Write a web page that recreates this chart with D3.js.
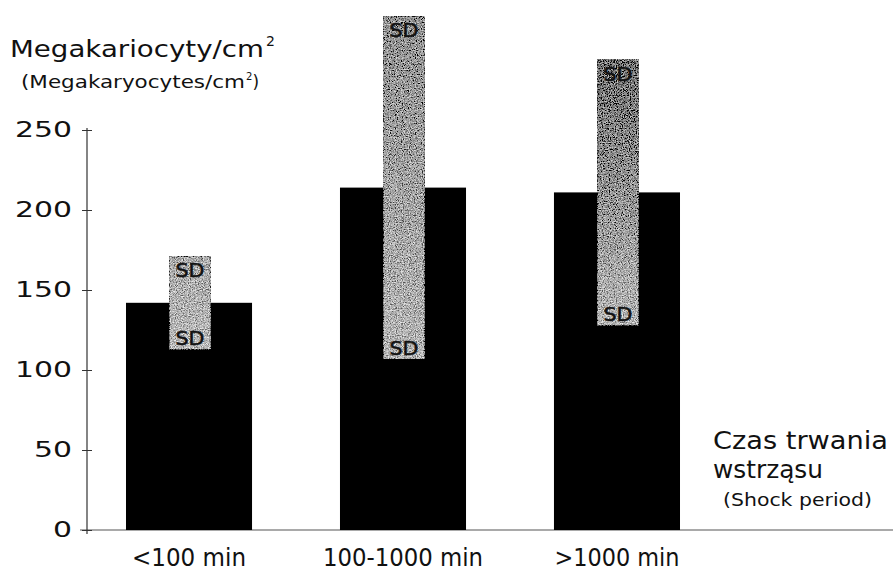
<!DOCTYPE html>
<html>
<head>
<meta charset="utf-8">
<script src="https://cdn.jsdelivr.net/npm/d3@7"></script>
<style>
  body { margin: 0; background: #fff; }
  text { font-family: "DejaVu Sans", sans-serif; fill: #111; }
</style>
</head>
<body>
<svg width="893" height="573"></svg>
<script>
// data
var categories = ["<100 min", "100-1000 min", ">1000 min"];
var means = [142, 214, 211];
var sds = [29, 107, 83];
var yTicks = [0, 50, 100, 150, 200, 250];

var svg = d3.select("svg"),
    width = +svg.attr("width"),
    height = +svg.attr("height");

// the scan is stretched sideways, so texts get a fixed width
function fit(sel, w) {
  sel.attr("textLength", w).attr("lengthAdjust", "spacingAndGlyphs");
  return sel;
}

var x = d3.scaleBand()
    .domain(categories)
    .range([83.2, 722.8])
    .paddingInner(0.411)
    .paddingOuter(0.2);

var y = d3.scaleLinear()
    .domain([0, 250])
    .range([530, 130]);

var defs = svg.append("defs");

// grainy texture for the SD boxes
var f = defs.append("filter").attr("id", "grain")
    .attr("x", 0).attr("y", 0).attr("width", 1).attr("height", 1);
f.append("feTurbulence")
    .attr("type", "fractalNoise")
    .attr("baseFrequency", 0.85)
    .attr("numOctaves", 2)
    .attr("seed", 7)
    .attr("result", "noise");
f.append("feColorMatrix")
    .attr("in", "noise")
    .attr("type", "matrix")
    .attr("values", "0.33 0.33 0.33 0 0  0.33 0.33 0.33 0 0  0.33 0.33 0.33 0 0  0 0 0 0 1")
    .attr("result", "gray");
var ct = f.append("feComponentTransfer").attr("in", "gray").attr("result", "g2");
["feFuncR", "feFuncG", "feFuncB"].forEach(function(n) {
  ct.append(n).attr("type", "linear").attr("slope", 4).attr("intercept", -1.5);
});
f.append("feComposite")
    .attr("in", "SourceGraphic").attr("in2", "g2")
    .attr("operator", "arithmetic")
    .attr("k1", 0).attr("k2", 1).attr("k3", 0.7).attr("k4", -0.35);

// vertical shading of each box
var shades = [["#adadad", "#bdbdbd"], ["#959595", "#b8b8b8"], ["#747474", "#bababa"]];
shades.forEach(function(s, i) {
  var g = defs.append("linearGradient").attr("id", "shade" + i)
      .attr("x1", 0).attr("x2", 0).attr("y1", 0).attr("y2", 1);
  g.append("stop").attr("offset", "0%").attr("stop-color", s[0]);
  g.append("stop").attr("offset", "100%").attr("stop-color", s[1]);
});

// x axis baseline
svg.append("line")
    .attr("x1", 80).attr("x2", width)
    .attr("y1", y(0)).attr("y2", y(0))
    .attr("stroke", "#555").attr("stroke-width", 1.1);

// y axis
var yAxis = svg.append("g")
    .attr("transform", "translate(87,0)")
    .call(d3.axisLeft(y).tickValues(yTicks).tickSize(5).tickPadding(10));
yAxis.select(".domain").attr("stroke", "#333").attr("stroke-width", 1.2)
    .attr("d", "M0,128V534");
yAxis.selectAll(".tick line").attr("stroke", "#333").attr("x2", 5).attr("x1", -5);
yAxis.selectAll(".tick text")
    .style("font-family", "'DejaVu Sans', sans-serif")
    .style("font-size", "21px")
    .attr("fill", "#111")
    .each(function(d) { fit(d3.select(this), String(d).length * 19); });

// bars
svg.selectAll(".bar")
  .data(categories)
  .enter().append("rect")
    .attr("class", "bar")
    .attr("x", function(d) { return x(d); })
    .attr("width", x.bandwidth())
    .attr("y", function(d, i) { return y(means[i]); })
    .attr("height", function(d, i) { return y(0) - y(means[i]); })
    .attr("fill", "#000");

// SD boxes
var boxW = 41;
var sdg = svg.selectAll(".sd")
  .data(categories)
  .enter().append("g").attr("class", "sd");

sdg.append("rect")
    .attr("x", function(d) { return x(d) + x.bandwidth() / 2 - boxW / 2 + 1; })
    .attr("width", boxW)
    .attr("y", function(d, i) { return y(means[i] + sds[i]); })
    .attr("height", function(d, i) { return y(means[i] - sds[i]) - y(means[i] + sds[i]); })
    .attr("fill", function(d, i) { return "url(#shade" + i + ")"; })
    .attr("filter", "url(#grain)");

sdg.append("text")
    .attr("x", function(d) { return x(d) + x.bandwidth() / 2 + 1; })
    .attr("y", function(d, i) { return y(means[i] + sds[i]) + 21; })
    .attr("text-anchor", "middle")
    .style("font-size", "19px")
    .attr("fill", "#1a1a1a")
    .attr("stroke", "#1a1a1a").attr("stroke-width", 0.6)
    .text("SD")
    .call(fit, 29);

sdg.append("text")
    .attr("x", function(d) { return x(d) + x.bandwidth() / 2 + 1; })
    .attr("y", function(d, i) { return y(means[i] - sds[i]) - 4; })
    .attr("text-anchor", "middle")
    .style("font-size", "19px")
    .attr("fill", "#1a1a1a")
    .attr("stroke", "#1a1a1a").attr("stroke-width", 0.6)
    .text("SD")
    .call(fit, 29);

// category labels
var catW = [114, 160, 125];
svg.selectAll(".cat")
  .data(categories)
  .enter().append("text")
    .attr("class", "cat")
    .attr("x", function(d) { return x(d) + x.bandwidth() / 2; })
    .attr("y", 566)
    .attr("text-anchor", "middle")
    .style("font-size", "24px")
    .attr("textLength", function(d, i) { return catW[i]; })
    .attr("lengthAdjust", "spacingAndGlyphs")
    .text(function(d) { return d; });

// titles
var t1 = svg.append("text").attr("x", 10).attr("y", 57).style("font-size", "23px");
fit(t1.append("tspan").text("Megakariocyty/cm"), 254);
t1.append("tspan").attr("dy", -11).attr("dx", 2).style("font-size", "14px").text("2");

var t2 = svg.append("text").attr("x", 21).attr("y", 88).style("font-size", "17px");
fit(t2.append("tspan").text("(Megakaryocytes/cm"), 224);
t2.append("tspan").attr("dy", -8).attr("dx", 1).style("font-size", "10px").text("2");
t2.append("tspan").attr("dy", 8).text(")");

fit(svg.append("text").attr("x", 713).attr("y", 449).style("font-size", "24px").text("Czas trwania"), 175);
fit(svg.append("text").attr("x", 713).attr("y", 478).style("font-size", "24px").text("wstrząsu"), 110);
fit(svg.append("text").attr("x", 723).attr("y", 506).style("font-size", "17px").text("(Shock period)"), 149);
</script>
</body>
</html>
